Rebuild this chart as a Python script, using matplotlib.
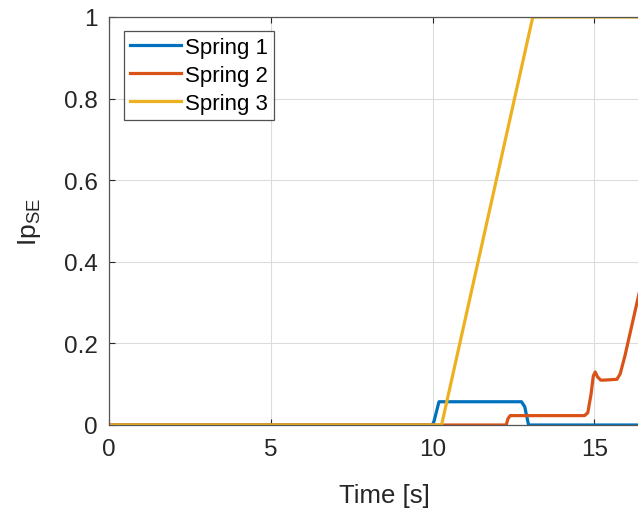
import matplotlib
matplotlib.use("Agg")
import matplotlib.pyplot as plt
import numpy as np

plt.rcParams['font.family'] = ['Liberation Sans', 'DejaVu Sans']
plt.rcParams['mathtext.fontset'] = 'custom'
plt.rcParams['mathtext.rm'] = 'Liberation Sans'

# Spring 1
t1 = [0, 10.0, 10.05, 10.2, 12.75, 12.85, 12.97, 17]
y1 = [0, 0, 0.01, 0.057, 0.057, 0.045, 0, 0]
# Spring 2
t2 = [0, 12.28, 12.33, 12.4, 14.7, 14.8, 14.9, 14.97, 15.03, 15.1, 15.2, 15.3, 15.7, 15.8, 15.95, 16.15, 16.35, 16.6, 17.0]
y2 = [0, 0, 0.015, 0.023, 0.023, 0.03, 0.075, 0.12, 0.13, 0.118, 0.11, 0.11, 0.112, 0.125, 0.17, 0.24, 0.31, 0.40, 0.52]
# Spring 3
t3 = [0, 10.28, 13.1, 17]
y3 = [0, 0, 1.0, 1.0]

labels = ['Spring 1', 'Spring 2', 'Spring 3']
colors = ['#0072BD', '#D95319', '#EDB120']
xticks = [0, 5, 10, 15]
yticks = [0, 0.2, 0.4, 0.6, 0.8, 1.0]
yticklabels = ['0', '0.2', '0.4', '0.6', '0.8', '1']

fig = plt.figure(figsize=(6.38, 5.10), dpi=100)
W, H = 638, 510
x0, x1 = 109, 109 + 17 * 32.35
y0, ytop = 426, 18
ax = fig.add_axes([x0 / W, 1 - y0 / H, (x1 - x0) / W, (y0 - ytop) / H])

for t, y, c, l in zip([t1, t2, t3], [y1, y2, y3], colors, labels):
    ax.plot(t, y, color=c, lw=2.3, label=l)

ax.set_xlim(0, 17)
ax.set_ylim(0, 1)
ax.set_xticks(xticks)
ax.set_yticks(yticks)
ax.set_yticklabels(yticklabels)
ax.grid(True, color='#dcdcdc', lw=0.8)
ax.set_axisbelow(True)
ax.tick_params(direction='in', top=True, right=True, labelsize=17.5, colors='#262626',
               length=4, width=0.8)
ax.tick_params(axis='x', pad=9)
ax.tick_params(axis='y', pad=8)
for s in ax.spines.values():
    s.set_color('#555555')
    s.set_linewidth(0.9)
ax.set_xlabel('Time [s]', fontsize=18.5, color='#262626', labelpad=17)
ax.set_ylabel(r'Ip$_{\mathrm{SE}}$', fontsize=19, color='#262626', labelpad=15)

leg = ax.legend(loc='upper left', bbox_to_anchor=(15 / (x1 - x0), 1 - 14 / (y0 - ytop)),
                fontsize=16, frameon=True, fancybox=False, edgecolor='#262626',
                handlelength=2.3, handletextpad=0.2, borderpad=0.25, labelspacing=0.33,
                borderaxespad=0)
leg.get_frame().set_linewidth(0.9)

fig.savefig('out.png', dpi=100)
